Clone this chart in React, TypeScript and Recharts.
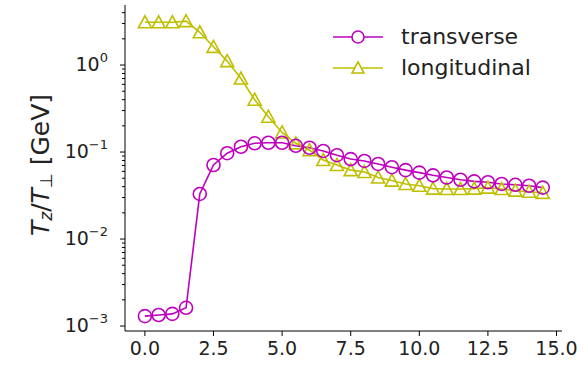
import React from "react";
import { ComposedChart, Line, XAxis, YAxis, Legend } from "recharts";

const xValues = [0, 0.5, 1, 1.5, 2, 2.5, 3, 3.5, 4, 4.5, 5, 5.5, 6, 6.5, 7, 7.5, 8, 8.5, 9, 9.5, 10, 10.5, 11, 11.5, 12, 12.5, 13, 13.5, 14, 14.5];
const transverse = [0.0013, 0.00134, 0.00138, 0.00162, 0.033, 0.071, 0.097, 0.115, 0.126, 0.128, 0.128, 0.118, 0.112, 0.103, 0.092, 0.083, 0.079, 0.073, 0.067, 0.062, 0.058, 0.054, 0.051, 0.048, 0.046, 0.045, 0.043, 0.042, 0.041, 0.039];
const longitudinal = [3.1, 3.1, 3.1, 3.2, 2.38, 1.62, 1.11, 0.7, 0.4, 0.255, 0.168, 0.126, 0.105, 0.081, 0.071, 0.062, 0.059, 0.051, 0.047, 0.043, 0.041, 0.038, 0.0376, 0.0376, 0.038, 0.039, 0.0376, 0.036, 0.035, 0.034];
const xTicks = [0, 2.5, 5, 7.5, 10, 12.5, 15];
const yMajorTicks = [0.001, 0.01, 0.1, 1];
const yMajorLabels = ["−3", "−2", "−1", "0"];
const seriesNames = ["transverse", "longitudinal"];

const MAGENTA = "#bf00bf";
const OLIVE = "#bfbf00";
const FONT = "DejaVu Sans, sans-serif";
const PLOT_LEFT = 125;

const yMinorTicks: number[] = [];
[0.001, 0.01, 0.1, 1].forEach((d) => {
  for (let k = 2; k <= 9; k++) {
    const v = d * k;
    if (v <= 4.9) yMinorTicks.push(v);
  }
});
const yAllTicks = [...yMajorTicks, ...yMinorTicks].sort((a, b) => a - b);

const data = xValues.map((x, i) => ({
  x,
  transverse: transverse[i],
  longitudinal: longitudinal[i],
}));

const YTick = (props: any) => {
  const { y, payload } = props;
  const v = payload.value;
  const idx = yMajorTicks.findIndex((m) => Math.abs(m - v) / m < 1e-6);
  const major = idx >= 0;
  return (
    <g>
      <line x1={PLOT_LEFT} x2={PLOT_LEFT - (major ? 5 : 3)} y1={y} y2={y} stroke="#000" strokeWidth={1} />
      {major && (
        <text x={PLOT_LEFT - 17} y={y + 6} textAnchor="end" fontFamily={FONT} fontSize={19} fill="#222">
          <tspan>10</tspan>
          <tspan dy={-9} fontSize={13}>{yMajorLabels[idx]}</tspan>
        </text>
      )}
    </g>
  );
};

const Triangle = (props: any) => {
  const { cx, cy, index } = props;
  if (cx == null || cy == null) return <g key={index} />;
  const r = 6.5;
  return (
    <path
      key={index}
      d={`M${cx},${cy - r} L${cx - r},${cy + r * 0.85} L${cx + r},${cy + r * 0.85} Z`}
      fill="none"
      stroke={OLIVE}
      strokeWidth={1.6}
    />
  );
};

const Circle = (props: any) => {
  const { cx, cy, index } = props;
  if (cx == null || cy == null) return <g key={index} />;
  return <circle key={index} cx={cx} cy={cy} r={6.5} fill="none" stroke={MAGENTA} strokeWidth={1.6} />;
};

const LegendContent = () => (
  <div style={{ fontFamily: FONT, fontSize: 22, color: "#222" }}>
    {seriesNames.map((name, i) => (
      <div key={name} style={{ display: "flex", alignItems: "center", height: 31 }}>
        <svg width={50} height={20} style={{ marginRight: 18 }}>
          <line x1={0} x2={50} y1={10} y2={10} stroke={i === 0 ? MAGENTA : OLIVE} strokeWidth={1.6} />
          {i === 0 ? (
            <circle cx={25} cy={10} r={6} fill="#fff" stroke={MAGENTA} strokeWidth={1.6} />
          ) : (
            <path d="M25,4 L19,15 L31,15 Z" fill="#fff" stroke={OLIVE} strokeWidth={1.6} />
          )}
        </svg>
        <span>{name}</span>
      </div>
    ))}
  </div>
);

export default function App() {
  return (
    <div style={{ position: "absolute", left: 0, top: 0, width: 585, height: 367, background: "#fff" }}>
      <ComposedChart
        width={585}
        height={367}
        data={data}
        margin={{ top: 5, right: 23, bottom: 6, left: 65 }}
      >
        <XAxis
          dataKey="x"
          type="number"
          domain={[-0.725, 15.2]}
          ticks={xTicks}
          allowDataOverflow
          tickFormatter={(v: number) => v.toFixed(1)}
          height={30}
          tickSize={5}
          tickMargin={6}
          stroke="#000"
          tick={{ fill: "#222", fontSize: 19, fontFamily: FONT }}
          interval={0}
        />
        <XAxis
          xAxisId="top"
          orientation="top"
          dataKey="x"
          type="number"
          domain={[-0.725, 15.2]}
          height={0}
          tick={false}
          tickLine={false}
          stroke="#000"
        />
        <YAxis
          yAxisId="left"
          scale="log"
          type="number"
          domain={[0.000877, 4.9]}
          allowDataOverflow
          ticks={yAllTicks}
          interval={0}
          width={60}
          tickLine={false}
          tick={<YTick />}
          stroke="#000"
        />
        <YAxis
          yAxisId="right"
          orientation="right"
          scale="log"
          type="number"
          domain={[0.000877, 4.9]}
          width={0}
          tick={false}
          tickLine={false}
          stroke="#000"
        />
        <Legend
          layout="horizontal"
          verticalAlign="middle"
          align="center"
          content={<LegendContent />}
          wrapperStyle={{ position: "absolute", left: 333, top: 21, width: 230, height: 62 }}
        />
        <Line
          yAxisId="left"
          dataKey="longitudinal"
          name="longitudinal"
          stroke={OLIVE}
          strokeWidth={1.6}
          dot={<Triangle />}
          isAnimationActive={false}
        />
        <Line
          yAxisId="left"
          dataKey="transverse"
          name="transverse"
          stroke={MAGENTA}
          strokeWidth={1.6}
          dot={<Circle />}
          isAnimationActive={false}
        />
        <text
          x={40}
          y={165}
          transform="rotate(-90 40 165)"
          textAnchor="middle"
          dominantBaseline="central"
          fontFamily={FONT}
          fontSize={25}
          fill="#222"
        >
          <tspan fontStyle="italic">T</tspan>
          <tspan fontStyle="italic" fontSize={17} dy={6}>z</tspan>
          <tspan dy={-6}>/</tspan>
          <tspan fontStyle="italic">T</tspan>
          <tspan fontSize={17} dy={6}>⊥</tspan>
          <tspan dy={-6}>{"  [GeV]"}</tspan>
        </text>
      </ComposedChart>
    </div>
  );
}
